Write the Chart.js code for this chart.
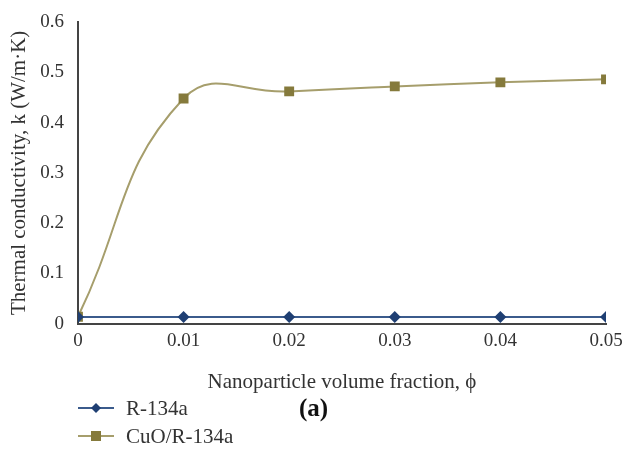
<!DOCTYPE html>
<html>
<head>
<meta charset="utf-8">
<script src="https://cdn.jsdelivr.net/npm/chart.js@4"></script>
<style>
  html, body { margin: 0; padding: 0; background: #fff; }
  #wrap { position: relative; width: 625px; height: 459px; }
  #chart { position: absolute; left: 0; top: 0; }
  .legend { position: absolute; left: 78px; font-family: "Liberation Serif", serif; font-size: 21px; color: #333; }
  .legend div { height: 28px; display: flex; align-items: center; }
  .legend svg { margin-right: 12px; }
  #caption { position: absolute; left: 299px; top: 394px; font-family: "Liberation Serif", serif; font-weight: bold; font-size: 25px; color: #111; }
</style>
</head>
<body>
<div id="wrap">
  <canvas id="chart" width="625" height="459"></canvas>
  <div class="legend" style="top:394px">
    <div><svg width="36" height="12"><line x1="0" y1="6" x2="36" y2="6" stroke="#3b5b8c" stroke-width="2"/><polygon points="18,1 23,6 18,11 13,6" fill="#1f3f73"/></svg>R-134a</div>
    <div><svg width="36" height="12"><line x1="0" y1="6" x2="36" y2="6" stroke="#a69e6c" stroke-width="2"/><rect x="13" y="1" width="10" height="10" fill="#857a3c"/></svg>CuO/R-134a</div>
  </div>
  <div id="caption">(a)</div>
</div>
<script>
// Volume fraction (x) and thermal conductivity values
const fractions = [0, 0.01, 0.02, 0.03, 0.04, 0.05];
const r134a = [0.0135, 0.0135, 0.0135, 0.0135, 0.0135, 0.0135];
const cuoR134a = [0.014, 0.448, 0.462, 0.472, 0.480, 0.486];

const serif = '"Liberation Serif", "Times New Roman", serif';

function toPoints(values) {
    return fractions.map((x, i) => ({ x: x, y: values[i] }));
}

const ctx = document.getElementById('chart').getContext('2d');
new Chart(ctx, {
    type: 'line',
    data: {
        datasets: [{
            label: 'R-134a',
            data: toPoints(r134a),
            borderColor: '#3b5b8c',
            borderWidth: 2,
            pointStyle: 'rectRot',
            pointRadius: 6,
            pointBackgroundColor: '#1f3f73',
            pointBorderWidth: 0,
            tension: 0
        }, {
            label: 'CuO/R-134a',
            data: toPoints(cuoR134a),
            borderColor: '#a69e6c',
            borderWidth: 2,
            pointStyle: 'rect',
            pointRadius: 7,
            pointBackgroundColor: '#857a3c',
            pointBorderWidth: 0,
            tension: 0.45,
            capBezierPoints: false
        }]
    },
    options: {
        responsive: false,
        animation: false,
        layout: { padding: { left: 7, right: 19, top: 22, bottom: 60 } },
        plugins: {
            legend: { display: false },
            tooltip: { enabled: false }
        },
        scales: {
            x: {
                type: 'linear',
                min: 0,
                max: 0.05,
                grid: { display: false },
                border: { display: true, color: '#444', width: 2 },
                ticks: {
                    stepSize: 0.01,
                    color: '#333',
                    font: { family: serif, size: 19, lineHeight: 1 },
                    padding: 0,
                    callback: v => Number(v.toFixed(2)).toString()
                },
                title: {
                    display: true,
                    text: 'Nanoparticle volume fraction, ϕ',
                    color: '#333',
                    font: { family: serif, size: 21 },
                    padding: { top: 19 }
                }
            },
            y: {
                min: 0,
                max: 0.6,
                grid: { display: false },
                border: { display: true, color: '#444', width: 2 },
                ticks: {
                    stepSize: 0.1,
                    color: '#333',
                    font: { family: serif, size: 19 },
                    padding: 6,
                    callback: v => Number(v.toFixed(1)).toString()
                },
                title: {
                    display: true,
                    text: 'Thermal conductivity, k (W/m·K)',
                    color: '#333',
                    font: { family: serif, size: 21 },
                    padding: { top: 0, bottom: 2 }
                }
            }
        }
    }
});
</script>
</body>
</html>
